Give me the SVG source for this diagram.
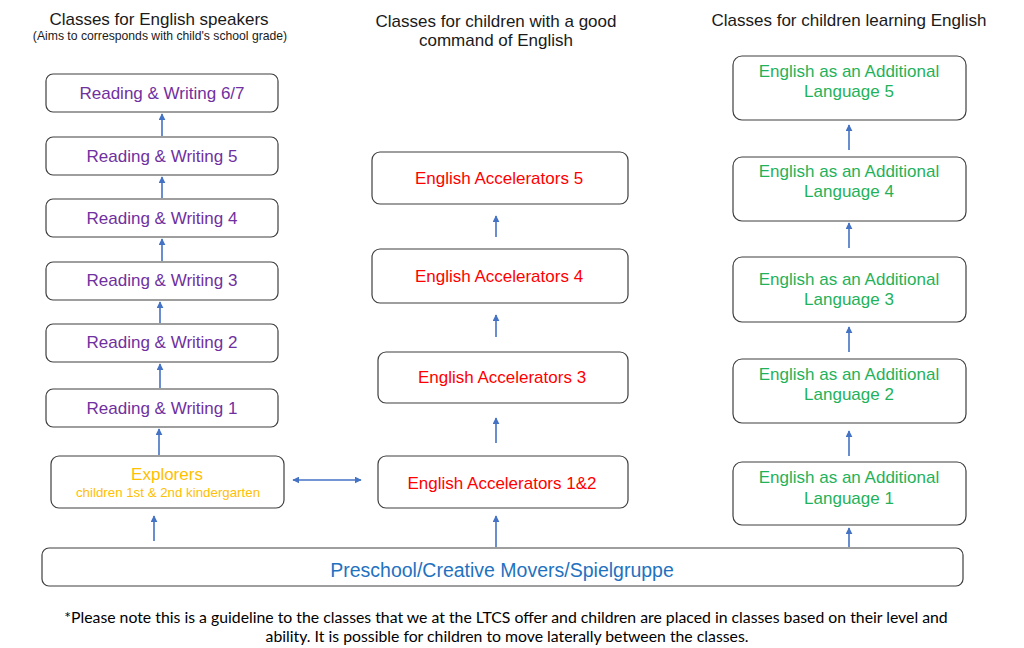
<svg xmlns="http://www.w3.org/2000/svg" width="1024" height="648" viewBox="0 0 1024 648">
<defs>
<marker id="ah" viewBox="0 0 10 10" refX="9" refY="5" markerWidth="7" markerHeight="7" markerUnits="userSpaceOnUse" orient="auto-start-reverse">
<path d="M0,0 L10,5 L0,10 z" fill="#4472C4"/>
</marker>
<style>
.box{fill:#fff;stroke:#3f3f3f;stroke-width:1.2}
.t{font-family:"Liberation Sans",Arial,sans-serif;text-anchor:middle}
.h{font-size:17px;fill:#1a1a1a}
.rw{font-size:17px;fill:#7030A0}
.ea{font-size:17px;fill:#FF0000}
.eal{font-size:17px;fill:#1FB25A}
.ex{fill:#FFC000}
.pre{font-size:19.5px;fill:#1F72C0}
.c{stroke:#4472C4;stroke-width:1.6;fill:none;marker-end:url(#ah)}
.note{font-family:Lato,"Open Sans",sans-serif;font-size:15.8px;fill:#000;text-anchor:middle}
</style>
</defs>
<rect width="1024" height="648" fill="#fff"/>
<g id="headers">
<text class="t h" x="159" y="25">Classes for English speakers</text>
<text class="t" x="160" y="40" font-size="12.2" fill="#1a1a1a">(Aims to corresponds with child's school grade)</text>
<text class="t h" x="496" y="27">Classes for children with a good</text>
<text class="t h" x="496" y="46">command of English</text>
<text class="t h" x="849" y="26">Classes for children learning English</text>
</g>
<g id="connectors">
<line class="c" x1="162" y1="136" x2="162" y2="114"/>
<line class="c" x1="162" y1="198" x2="162" y2="177"/>
<line class="c" x1="162" y1="261" x2="162" y2="239"/>
<line class="c" x1="160" y1="323" x2="160" y2="302"/>
<line class="c" x1="160" y1="388" x2="160" y2="364"/>
<line class="c" x1="159" y1="455" x2="159" y2="429"/>
<line class="c" x1="154" y1="541" x2="154" y2="516"/>
<line class="c" x1="293" y1="480" x2="361" y2="480" style="marker-start:url(#ah)"/>
<line class="c" x1="496" y1="237" x2="496" y2="216"/>
<line class="c" x1="496" y1="337" x2="496" y2="315"/>
<line class="c" x1="496" y1="443" x2="496" y2="418"/>
<line class="c" x1="496" y1="547" x2="496" y2="516"/>
<line class="c" x1="849" y1="150" x2="849" y2="125"/>
<line class="c" x1="849" y1="248" x2="849" y2="223"/>
<line class="c" x1="849" y1="352" x2="849" y2="327"/>
<line class="c" x1="849" y1="456" x2="849" y2="431"/>
<line class="c" x1="849" y1="547" x2="849" y2="528"/>
</g>
<g id="rw67"><rect class="box" x="46" y="74" width="232" height="38" rx="7"/><text class="t rw" x="162" y="99">Reading &amp; Writing 6/7</text></g>
<g id="rw5"><rect class="box" x="46" y="137" width="232" height="38" rx="7"/><text class="t rw" x="162" y="162">Reading &amp; Writing 5</text></g>
<g id="rw4"><rect class="box" x="46" y="199" width="232" height="38" rx="7"/><text class="t rw" x="162" y="224">Reading &amp; Writing 4</text></g>
<g id="rw3"><rect class="box" x="46" y="262" width="232" height="38" rx="7"/><text class="t rw" x="162" y="286">Reading &amp; Writing 3</text></g>
<g id="rw2"><rect class="box" x="46" y="324" width="232" height="38" rx="7"/><text class="t rw" x="162" y="348">Reading &amp; Writing 2</text></g>
<g id="rw1"><rect class="box" x="46" y="389" width="232" height="38" rx="7"/><text class="t rw" x="162" y="414">Reading &amp; Writing 1</text></g>
<g id="explorers"><rect class="box" x="51" y="456" width="233" height="52" rx="8"/><text class="t ex" x="167" y="480" font-size="17">Explorers</text><text class="t ex" x="168" y="497" font-size="13.3">children 1st &amp; 2nd kindergarten</text></g>
<g id="ea5"><rect class="box" x="372" y="152" width="256" height="52" rx="8"/><text class="t ea" x="499" y="184">English Accelerators 5</text></g>
<g id="ea4"><rect class="box" x="372" y="249" width="256" height="54" rx="8"/><text class="t ea" x="499" y="282">English Accelerators 4</text></g>
<g id="ea3"><rect class="box" x="378" y="352" width="250" height="51" rx="8"/><text class="t ea" x="502" y="383">English Accelerators 3</text></g>
<g id="ea12"><rect class="box" x="378" y="456" width="250" height="52" rx="8"/><text class="t ea" x="502" y="489">English Accelerators 1&amp;2</text></g>
<g id="eal5"><rect class="box" x="733" y="56" width="233" height="64" rx="9"/><text class="t eal" x="849" y="77">English as an Additional</text><text class="t eal" x="849" y="97">Language 5</text></g>
<g id="eal4"><rect class="box" x="733" y="157" width="233" height="64" rx="9"/><text class="t eal" x="849" y="177">English as an Additional</text><text class="t eal" x="849" y="197">Language 4</text></g>
<g id="eal3"><rect class="box" x="733" y="257" width="233" height="65" rx="9"/><text class="t eal" x="849" y="285">English as an Additional</text><text class="t eal" x="849" y="305">Language 3</text></g>
<g id="eal2"><rect class="box" x="733" y="359" width="233" height="64" rx="9"/><text class="t eal" x="849" y="380">English as an Additional</text><text class="t eal" x="849" y="400">Language 2</text></g>
<g id="eal1"><rect class="box" x="733" y="462" width="233" height="63" rx="9"/><text class="t eal" x="849" y="483">English as an Additional</text><text class="t eal" x="849" y="504">Language 1</text></g>
<g id="preschool"><rect class="box" x="42" y="548" width="921" height="38" rx="7"/><text class="t pre" x="502" y="577">Preschool/Creative Movers/Spielgruppe</text></g>
<g id="note">
<text class="note" x="506" y="623">*Please note this is a guideline to the classes that we at the LTCS offer and children are placed in classes based on their level and</text>
<text class="note" x="507" y="642">ability. It is possible for children to move laterally between the classes.</text>
</g>
</svg>
